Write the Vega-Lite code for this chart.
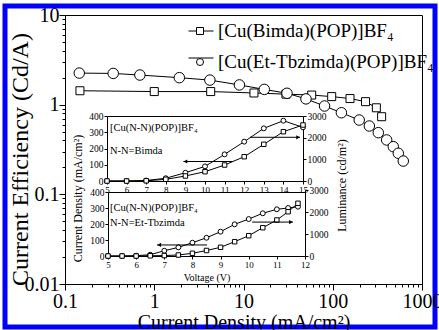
{
  "$schema": "https://vega.github.io/schema/vega-lite/v6.json",
  "width": 430,
  "height": 321,
  "autosize": "none",
  "padding": {"left": 5, "top": 6, "right": 4, "bottom": 3},
  "background": "white",
  "config": {
    "font": "Liberation Serif",
    "view": {"stroke": "#0000ff", "strokeWidth": 5, "fill": "white"},
    "axis": {"grid": false, "domainColor": "black", "tickColor": "black", "labelColor": "black", "titleColor": "black", "labelFont": "Liberation Serif", "titleFont": "Liberation Serif", "titleFontWeight": "normal", "domainWidth": 1, "tickWidth": 1},
    "legend": {"labelFont": "Liberation Serif", "padding": 0},
    "text": {"font": "Liberation Serif"}
  },
  "datasets": {
    "main": [
      {"s": "[Cu(Bimda)(POP)]BF₄", "j": 0.147, "ce": 1.43},
      {"s": "[Cu(Bimda)(POP)]BF₄", "j": 1.0, "ce": 1.40},
      {"s": "[Cu(Bimda)(POP)]BF₄", "j": 4.29, "ce": 1.40},
      {"s": "[Cu(Bimda)(POP)]BF₄", "j": 13.1, "ce": 1.35},
      {"s": "[Cu(Bimda)(POP)]BF₄", "j": 29.9, "ce": 1.31},
      {"s": "[Cu(Bimda)(POP)]BF₄", "j": 58.1, "ce": 1.28},
      {"s": "[Cu(Bimda)(POP)]BF₄", "j": 97.3, "ce": 1.23},
      {"s": "[Cu(Bimda)(POP)]BF₄", "j": 156, "ce": 1.17},
      {"s": "[Cu(Bimda)(POP)]BF₄", "j": 233, "ce": 1.08},
      {"s": "[Cu(Bimda)(POP)]BF₄", "j": 308, "ce": 0.923},
      {"s": "[Cu(Bimda)(POP)]BF₄", "j": 353, "ce": 0.734},
      {"s": "[Cu(Et-Tbzimda)(POP)]BF₄", "j": 0.1445, "ce": 2.25},
      {"s": "[Cu(Et-Tbzimda)(POP)]BF₄", "j": 0.347, "ce": 2.23},
      {"s": "[Cu(Et-Tbzimda)(POP)]BF₄", "j": 0.69, "ce": 2.14},
      {"s": "[Cu(Et-Tbzimda)(POP)]BF₄", "j": 1.91, "ce": 2.0},
      {"s": "[Cu(Et-Tbzimda)(POP)]BF₄", "j": 4.2, "ce": 1.88},
      {"s": "[Cu(Et-Tbzimda)(POP)]BF₄", "j": 9.0, "ce": 1.66},
      {"s": "[Cu(Et-Tbzimda)(POP)]BF₄", "j": 17.1, "ce": 1.48},
      {"s": "[Cu(Et-Tbzimda)(POP)]BF₄", "j": 30.7, "ce": 1.34},
      {"s": "[Cu(Et-Tbzimda)(POP)]BF₄", "j": 50.1, "ce": 1.16},
      {"s": "[Cu(Et-Tbzimda)(POP)]BF₄", "j": 80.9, "ce": 0.966},
      {"s": "[Cu(Et-Tbzimda)(POP)]BF₄", "j": 125, "ce": 0.813},
      {"s": "[Cu(Et-Tbzimda)(POP)]BF₄", "j": 198, "ce": 0.674},
      {"s": "[Cu(Et-Tbzimda)(POP)]BF₄", "j": 257, "ce": 0.578},
      {"s": "[Cu(Et-Tbzimda)(POP)]BF₄", "j": 324, "ce": 0.487},
      {"s": "[Cu(Et-Tbzimda)(POP)]BF₄", "j": 402, "ce": 0.404},
      {"s": "[Cu(Et-Tbzimda)(POP)]BF₄", "j": 477, "ce": 0.34},
      {"s": "[Cu(Et-Tbzimda)(POP)]BF₄", "j": 543, "ce": 0.287},
      {"s": "[Cu(Et-Tbzimda)(POP)]BF₄", "j": 617, "ce": 0.235}
    ],
    "uj": [
      {"v": 5, "val": 0}, {"v": 6, "val": 0}, {"v": 7, "val": 3}, {"v": 8, "val": 17}, {"v": 9, "val": 51}, {"v": 10, "val": 90},
      {"v": 11, "val": 164}, {"v": 12, "val": 242}, {"v": 13, "val": 324}, {"v": 14, "val": 371}, {"v": 15, "val": 330}
    ],
    "ul": [
      {"v": 5, "val": 0}, {"v": 6, "val": 0}, {"v": 7, "val": 10}, {"v": 8, "val": 78}, {"v": 9, "val": 231}, {"v": 10, "val": 430},
      {"v": 11, "val": 738}, {"v": 12, "val": 1121}, {"v": 13, "val": 1694}, {"v": 14, "val": 2275}, {"v": 15, "val": 2585}
    ],
    "lj": [
      {"v": 5, "val": 0}, {"v": 5.5, "val": 0}, {"v": 6, "val": 2}, {"v": 6.5, "val": 8}, {"v": 7, "val": 33}, {"v": 7.5, "val": 54},
      {"v": 8, "val": 83}, {"v": 8.5, "val": 114}, {"v": 9, "val": 152}, {"v": 9.5, "val": 198}, {"v": 10, "val": 231},
      {"v": 10.5, "val": 267}, {"v": 11, "val": 292}, {"v": 11.4, "val": 300}, {"v": 11.75, "val": 308}
    ],
    "ll": [
      {"v": 5, "val": 0}, {"v": 5.5, "val": 0}, {"v": 6, "val": 0}, {"v": 6.5, "val": 10}, {"v": 7, "val": 20}, {"v": 7.5, "val": 45},
      {"v": 8, "val": 123}, {"v": 8.5, "val": 250}, {"v": 9, "val": 395}, {"v": 9.5, "val": 650}, {"v": 10, "val": 923},
      {"v": 10.5, "val": 1286}, {"v": 11, "val": 1636}, {"v": 11.4, "val": 2013}, {"v": 11.75, "val": 2395}
    ],
    "utext": [
      {"v": 5.15, "val": 326, "t": "[Cu(N-N)(POP)]BF₄"},
      {"v": 5.15, "val": 185, "t": "N-N=Bimda"}
    ],
    "ltext": [
      {"v": 5.07, "val": 300, "t": "[Cu(N-N)(POP)]BF₄"},
      {"v": 5.07, "val": 206, "t": "N-N=Et-Tbzimda"}
    ],
    "uarrow": [
      {"a": 8.9, "b": 11.4, "tip": 9.0, "val": 120, "dir": "left"},
      {"a": 12.3, "b": 14.85, "tip": 14.75, "val": 269, "dir": "right"}
    ],
    "larrow": [
      {"a": 6.74, "b": 8.52, "tip": 6.82, "val": 69, "dir": "left"},
      {"a": 10.12, "b": 11.57, "tip": 11.5, "val": 212, "dir": "right"}
    ]
  },
  "layer": [
    {
      "data": {"name": "main"},
      "mark": {"type": "line", "strokeWidth": 1},
      "encoding": {
        "x": {"field": "j", "type": "quantitative",
          "scale": {"type": "log", "domain": [0.1, 1000], "range": [60, 417], "nice": false},
          "axis": {"orient": "bottom", "offset": -43,
            "values": [0.1,0.2,0.3,0.4,0.5,0.6,0.7,0.8,0.9,1,2,3,4,5,6,7,8,9,10,20,30,40,50,60,70,80,90,100,200,300,400,500,600,700,800,900,1000],
            "format": "~g",
            "labelExpr": "indexof([0.1,1,10,100,1000], datum.value) >= 0 ? datum.label : ''",
            "tickSize": {"condition": {"test": "indexof([0.1,1,10,100,1000], datum.value) >= 0", "value": 6}, "value": 3},
            "labelFontSize": 20, "labelPadding": 1, "labelFlush": false, "labelOverlap": false,
            "title": "Current Density (mA/cm²)", "titleFontSize": 20, "titleY": 38, "titleBaseline": "middle"}},
        "y": {"field": "ce", "type": "quantitative",
          "scale": {"type": "log", "domain": [0.01, 10], "range": [278, 9], "nice": false},
          "axis": {"orient": "left", "offset": -60,
            "values": [0.01,0.02,0.03,0.04,0.05,0.06,0.07,0.08,0.09,0.1,0.2,0.3,0.4,0.5,0.6,0.7,0.8,0.9,1,2,3,4,5,6,7,8,9,10],
            "format": "~g",
            "labelExpr": "indexof([0.01,0.1,1,10], datum.value) >= 0 ? datum.label : ''",
            "tickSize": {"condition": {"test": "indexof([0.01,0.1,1,10], datum.value) >= 0", "value": 6}, "value": 3},
            "labelFontSize": 20, "labelPadding": 0, "labelFlush": false, "labelOverlap": false,
            "title": "Current Efficiency (Cd/A)", "titleFontSize": 24, "titleX": -45, "titleY": 153, "titleAngle": -90, "titleAlign": "center", "titleBaseline": "middle"}},
        "color": {"field": "s", "type": "nominal",
          "scale": {"domain": ["[Cu(Bimda)(POP)]BF₄", "[Cu(Et-Tbzimda)(POP)]BF₄"], "range": ["black", "black"]},
          "legend": {"orient": "none", "legendX": 183, "legendY": 12, "title": null, "symbolType": "stroke", "symbolSize": 625, "symbolStrokeWidth": 1, "symbolStrokeColor": "black", "labelFontSize": 19, "labelOffset": 5, "rowPadding": 4, "labelExpr": "''", "labelOpacity": 0, "labelLimit": 400}}
      }
    },
    {
      "data": {"name": "main"},
      "mark": {"type": "point", "filled": false, "fill": "white", "strokeWidth": 1, "opacity": 1, "fillOpacity": 1},
      "encoding": {
        "x": {"field": "j", "type": "quantitative",
          "scale": {"type": "log", "domain": [0.1, 1000], "range": [60, 417], "nice": false},
          "axis": {"orient": "top", "offset": -9, "ticks": false, "labels": false, "title": null, "domain": true}},
        "y": {"field": "ce", "type": "quantitative",
          "scale": {"type": "log", "domain": [0.01, 10], "range": [278, 9], "nice": false},
          "axis": {"orient": "right", "offset": -13, "ticks": false, "labels": false, "title": null, "domain": true}},
        "color": {"field": "s", "type": "nominal",
          "scale": {"domain": ["[Cu(Bimda)(POP)]BF₄", "[Cu(Et-Tbzimda)(POP)]BF₄", "none"], "range": ["black", "black", "black"]},
          "legend": {"values": ["[Cu(Bimda)(POP)]BF₄", "[Cu(Et-Tbzimda)(POP)]BF₄"], "orient": "none", "legendX": 185.5, "legendY": 15.5, "title": null, "symbolSize": 49, "symbolFillColor": "white", "symbolStrokeWidth": 1, "symbolOpacity": 1, "labelFontSize": 19, "labelOffset": 8.5, "rowPadding": 11, "labelColor": "black", "labelLimit": 400}},
        "shape": {"field": "s", "type": "nominal",
          "scale": {"domain": ["[Cu(Bimda)(POP)]BF₄", "[Cu(Et-Tbzimda)(POP)]BF₄", "none"], "range": ["square", "circle", "cross"]},
          "legend": {"values": ["[Cu(Bimda)(POP)]BF₄", "[Cu(Et-Tbzimda)(POP)]BF₄"], "orient": "none", "legendX": 185.5, "legendY": 15.5, "title": null, "symbolSize": 49, "symbolFillColor": "white", "symbolStrokeWidth": 1, "symbolOpacity": 1, "labelFontSize": 19, "labelOffset": 8.5, "rowPadding": 11, "labelColor": "black", "labelLimit": 400}},
        "size": {"field": "s", "type": "nominal", "scale": {"domain": ["[Cu(Bimda)(POP)]BF₄", "[Cu(Et-Tbzimda)(POP)]BF₄"], "range": [64, 110]}, "legend": null}
      }
    },
    {
      "data": {"name": "uj"},
      "mark": {"type": "line", "color": "black", "strokeWidth": 1, "point": {"shape": "circle", "filled": true, "fill": "white", "stroke": "black", "strokeWidth": 1, "size": 24}},
      "encoding": {
        "x": {"field": "v", "type": "quantitative", "scale": {"domain": [5, 15], "range": [102, 298], "nice": false, "zero": false},
          "axis": {"orient": "bottom", "offset": -146, "values": [5,6,7,8,9,10,11,12,13,14,15], "format": "d", "tickSize": 3, "labelFontSize": 9, "labelPadding": 1, "labelFlush": false, "title": null}},
        "y": {"field": "val", "type": "quantitative", "scale": {"domain": [0, 400], "range": [175, 110], "nice": false, "zero": false},
          "axis": {"orient": "left", "offset": -102, "values": [0,100,200,300,400], "format": "d", "tickSize": 3, "labelFontSize": 9.5, "labelPadding": 1, "labelFlush": false,
            "title": "Current Density (mA/cm²)", "titleFontSize": 12, "titleX": -30, "titleY": 192, "titleAngle": -90, "titleAlign": "center", "titleBaseline": "middle"}}
      }
    },
    {
      "data": {"name": "ul"},
      "mark": {"type": "line", "color": "black", "strokeWidth": 1, "point": {"shape": "square", "filled": true, "fill": "white", "stroke": "black", "strokeWidth": 1, "size": 20}},
      "encoding": {
        "x": {"field": "v", "type": "quantitative", "scale": {"domain": [5, 15], "range": [102, 298], "nice": false, "zero": false},
          "axis": {"orient": "top", "offset": -110, "ticks": false, "labels": false, "title": null}},
        "y": {"field": "val", "type": "quantitative", "scale": {"domain": [0, 3000], "range": [175, 110], "nice": false, "zero": false},
          "axis": {"orient": "right", "offset": -132, "values": [0,1000,2000,3000], "format": "d", "tickSize": 3, "labelFontSize": 9.5, "labelPadding": 1, "labelFlush": false,
            "title": "Luminance (cd/m²)", "titleFontSize": 12, "titleX": 38, "titleY": 179, "titleAngle": -90, "titleAlign": "center", "titleBaseline": "middle"}}
      }
    },
    {
      "data": {"name": "utext"},
      "mark": {"type": "text", "align": "left", "baseline": "middle", "fontSize": 10.5, "color": "black"},
      "encoding": {
        "x": {"field": "v", "type": "quantitative", "scale": {"domain": [5, 15], "range": [102, 298], "nice": false, "zero": false}, "axis": null},
        "y": {"field": "val", "type": "quantitative", "scale": {"domain": [0, 400], "range": [175, 110], "nice": false, "zero": false}, "axis": null},
        "text": {"field": "t"}
      }
    },
    {
      "data": {"name": "uarrow"},
      "mark": {"type": "rule", "color": "black", "strokeWidth": 1},
      "encoding": {
        "x": {"field": "a", "type": "quantitative", "scale": {"domain": [5, 15], "range": [102, 298], "nice": false, "zero": false}, "axis": null},
        "x2": {"field": "b"},
        "y": {"field": "val", "type": "quantitative", "scale": {"domain": [0, 400], "range": [175, 110], "nice": false, "zero": false}, "axis": null}
      }
    },
    {
      "data": {"name": "uarrow"},
      "mark": {"type": "point", "filled": true, "color": "black", "size": 18, "opacity": 1},
      "encoding": {
        "x": {"field": "tip", "type": "quantitative", "scale": {"domain": [5, 15], "range": [102, 298], "nice": false, "zero": false}, "axis": null},
        "y": {"field": "val", "type": "quantitative", "scale": {"domain": [0, 400], "range": [175, 110], "nice": false, "zero": false}, "axis": null},
        "shape": {"field": "dir", "type": "nominal", "scale": {"domain": ["left", "right"], "range": ["triangle-left", "triangle-right"]}, "legend": null}
      }
    },
    {
      "data": {"name": "lj"},
      "mark": {"type": "line", "color": "black", "strokeWidth": 1, "point": {"shape": "circle", "filled": true, "fill": "white", "stroke": "black", "strokeWidth": 1, "size": 24}},
      "encoding": {
        "x": {"field": "v", "type": "quantitative", "scale": {"domain": [5, 12], "range": [103, 300], "nice": false, "zero": false},
          "axis": {"orient": "bottom", "offset": -71, "values": [5,6,7,8,9,10,11,12], "format": "d", "tickSize": 3, "labelFontSize": 9, "labelPadding": 1, "labelFlush": false,
            "title": "Voltage (V)", "titleFontSize": 10, "titleY": 21, "titleBaseline": "middle"}},
        "y": {"field": "val", "type": "quantitative", "scale": {"domain": [0, 400], "range": [250, 186], "nice": false, "zero": false},
          "axis": {"orient": "left", "offset": -103, "values": [0,100,200,300,400], "format": "d", "tickSize": 3, "labelFontSize": 9.5, "labelPadding": 1, "labelFlush": false, "title": null}}
      }
    },
    {
      "data": {"name": "ll"},
      "mark": {"type": "line", "color": "black", "strokeWidth": 1, "point": {"shape": "square", "filled": true, "fill": "white", "stroke": "black", "strokeWidth": 1, "size": 20}},
      "encoding": {
        "x": {"field": "v", "type": "quantitative", "scale": {"domain": [5, 12], "range": [103, 300], "nice": false, "zero": false},
          "axis": {"orient": "top", "offset": -186, "ticks": false, "labels": false, "title": null}},
        "y": {"field": "val", "type": "quantitative", "scale": {"domain": [0, 3000], "range": [250, 184], "nice": false, "zero": false},
          "axis": {"orient": "right", "offset": -130, "values": [0,1000,2000,3000], "format": "d", "tickSize": 3, "labelFontSize": 9.5, "labelPadding": 1, "labelFlush": false, "title": null}}
      }
    },
    {
      "data": {"name": "ltext"},
      "mark": {"type": "text", "align": "left", "baseline": "middle", "fontSize": 10.5, "color": "black"},
      "encoding": {
        "x": {"field": "v", "type": "quantitative", "scale": {"domain": [5, 12], "range": [103, 300], "nice": false, "zero": false}, "axis": null},
        "y": {"field": "val", "type": "quantitative", "scale": {"domain": [0, 400], "range": [250, 186], "nice": false, "zero": false}, "axis": null},
        "text": {"field": "t"}
      }
    },
    {
      "data": {"name": "larrow"},
      "mark": {"type": "rule", "color": "black", "strokeWidth": 1},
      "encoding": {
        "x": {"field": "a", "type": "quantitative", "scale": {"domain": [5, 12], "range": [103, 300], "nice": false, "zero": false}, "axis": null},
        "x2": {"field": "b"},
        "y": {"field": "val", "type": "quantitative", "scale": {"domain": [0, 400], "range": [250, 186], "nice": false, "zero": false}, "axis": null}
      }
    },
    {
      "data": {"name": "larrow"},
      "mark": {"type": "point", "filled": true, "color": "black", "size": 18, "opacity": 1},
      "encoding": {
        "x": {"field": "tip", "type": "quantitative", "scale": {"domain": [5, 12], "range": [103, 300], "nice": false, "zero": false}, "axis": null},
        "y": {"field": "val", "type": "quantitative", "scale": {"domain": [0, 400], "range": [250, 186], "nice": false, "zero": false}, "axis": null},
        "shape": {"field": "dir", "type": "nominal", "scale": {"domain": ["left", "right"], "range": ["triangle-left", "triangle-right"]}, "legend": null}
      }
    }
  ],
  "resolve": {"scale": {"x": "independent", "y": "independent", "shape": "independent", "size": "independent", "color": "independent"}}
}
